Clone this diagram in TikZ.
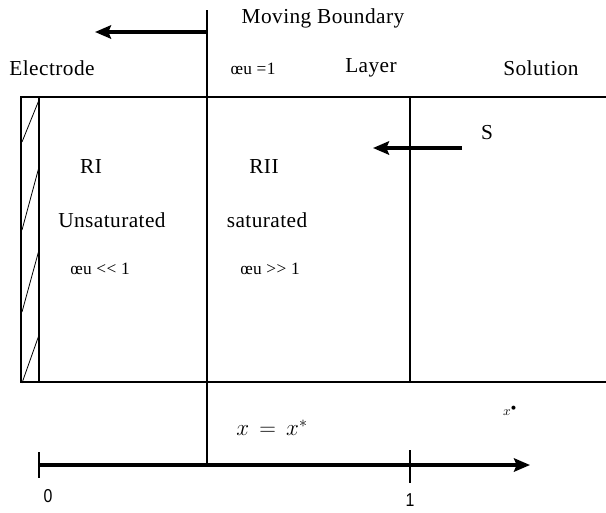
\documentclass[tikz,border=0pt]{standalone}
\usepackage{fontspec}
\setmainfont{Liberation Serif}[LetterSpace=2,Ligatures=NoCommon]
\newfontfamily\axisfont{Liberation Sans}
\usetikzlibrary{arrows.meta}
\begin{document}
\begin{tikzpicture}[x=0.75pt,y=-0.75pt,
  lbl/.style={inner sep=0pt, font=\fontsize{16}{18}\selectfont},
  small/.style={inner sep=0pt, font=\fontsize{13}{15}\selectfont},
  axislbl/.style={inner sep=0pt, font=\axisfont\fontsize{14}{16}\selectfont, xscale=0.85},
  thinline/.style={line width=1.1pt},
  frame/.style={line width=1.6pt},
  bigarrow/.style={line width=3pt, -{Stealth[length=12pt,width=10pt,inset=2pt]}},
  hatch/.style={line width=0.6pt}]
\useasboundingbox (0,0) rectangle (606,512);

% cell frame, open on the solution side
\coordinate (tl) at (21,97);
\coordinate (bl) at (21,382);
\coordinate (tr) at (606,97);
\coordinate (br) at (606,382);
\draw[frame] (tr) -- (tl) -- (bl) -- (br);

% electrode strip with its hatching
\coordinate (et) at (39,97);
\coordinate (eb) at (39,382);
\draw[thinline] (et) -- (eb);
\foreach \ya/\yb in {383/335, 312/250, 230/167, 142/100}
  \draw[hatch] (22,\ya) -- (39,\yb);

% moving boundary and the layer/solution interface
\coordinate (mbTop) at (207,10);
\coordinate (mbBot) at (207,465);
\draw[thinline] (mbTop) -- (mbBot);
\coordinate (lsTop) at (410,97);
\coordinate (lsBot) at (410,382);
\draw[thinline] (lsTop) -- (lsBot);

% arrows
\coordinate (mbArrowStart) at (207,32);
\coordinate (mbArrowEnd) at (95,32);
\draw[bigarrow] (mbArrowStart) -- (mbArrowEnd);
\coordinate (sStart) at (462,148);
\coordinate (sEnd) at (373,148);
\draw[bigarrow] (sStart) -- (sEnd);

% labels
\node[lbl] (mb) at (323,18) {Moving Boundary};
\node[lbl] (electrode) at (52,68) {Electrode};
\node[small] (wu1) at (253,69) {œu =1};
\node[lbl] (layer) at (371,68) {Layer};
\node[lbl] (solution) at (541,68) {Solution};
\node[lbl] (s) at (487,133) {S};
\node[lbl] (r1) at (91,167) {RI};
\node[lbl] (r2) at (264,167) {RII};
\node[lbl] (unsat) at (112,220) {Unsaturated};
\node[lbl] (sat) at (267,220) {saturated};
\node[small] (wuLow) at (100,269) {œu {<}{<} 1};
\node[small] (wuHigh) at (270,269) {œu {>}{>} 1};
\node[inner sep=0pt, font=\fontsize{18}{20}\selectfont] (xeq) at (272,428) {$x\,=\,x^{*}$};
\node[inner sep=0pt, font=\fontsize{10}{12}\selectfont] (xdot) at (510,411) {$x^{\bullet}$};

% coordinate axis
\coordinate (origin) at (39,465);
\coordinate (axisEnd) at (530,465);
\draw[line width=3pt, -{Stealth[length=12pt,width=10pt,inset=2pt]}] (origin) -- (axisEnd);
\coordinate (t0a) at (39,452);
\coordinate (t0b) at (39,478);
\draw[line width=1.2pt] (t0a) -- (t0b);
\coordinate (t1a) at (410,450);
\coordinate (t1b) at (410,483);
\draw[line width=1.4pt] (t1a) -- (t1b);
\node[axislbl] (zero) at (48,496) {0};
\node[axislbl] (one) at (410,500) {1};
\end{tikzpicture}
\end{document}
